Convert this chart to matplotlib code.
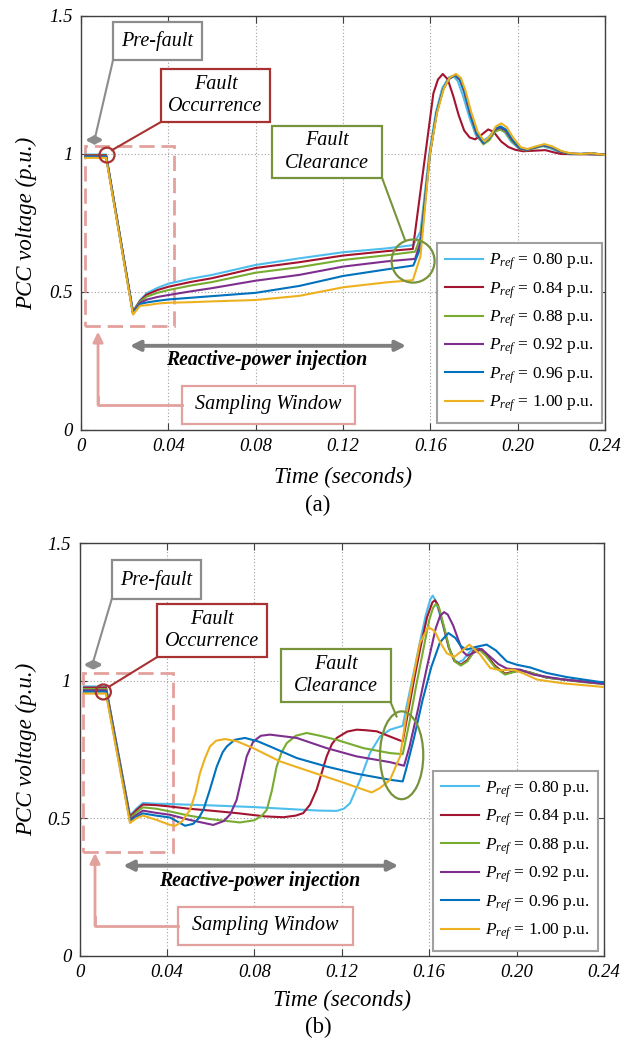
import matplotlib
matplotlib.use('Agg')
import matplotlib.pyplot as plt
from matplotlib.patches import Rectangle, Ellipse

plt.rcParams['font.family'] = ['Liberation Serif', 'DejaVu Serif']
plt.rcParams['mathtext.fontset'] = 'custom'
plt.rcParams['mathtext.it'] = 'Liberation Serif:italic'
plt.rcParams['mathtext.rm'] = 'Liberation Serif'

P_REF = ['0.80', '0.84', '0.88', '0.92', '0.96', '1.00']
COLORS = ['#4DBEEE', '#A2142F', '#77AC30', '#7E2F8E', '#0072BD', '#EDB120']
X_TICKS = [0, 0.04, 0.08, 0.12, 0.16, 0.20, 0.24]
X_LABELS = ['0', '0.04', '0.08', '0.12', '0.16', '0.20', '0.24']
Y_TICKS = [0, 0.5, 1, 1.5]
Y_LABELS = ['0', '0.5', '1', '1.5']

# ---- panel (a): PCC voltage ----
a_t_080 = [0.002, 0.0115, 0.0238, 0.027, 0.030, 0.035, 0.040, 0.050, 0.060, 0.080, 0.100, 0.120,
           0.140, 0.1522, 0.1555, 0.1595, 0.1625, 0.1655, 0.1685, 0.1705, 0.1725, 0.175, 0.178,
           0.181, 0.1835, 0.1865, 0.1895, 0.1915, 0.194, 0.197, 0.2005, 0.204, 0.208, 0.2115,
           0.215, 0.219, 0.224, 0.230, 0.235, 0.24]
a_v_080 = [0.998, 0.998, 0.430, 0.470, 0.495, 0.515, 0.530, 0.548, 0.562, 0.598, 0.622, 0.644,
           0.658, 0.670, 0.720, 1.000, 1.150, 1.240, 1.278, 1.283, 1.265, 1.210, 1.130,
           1.065, 1.045, 1.060, 1.085, 1.092, 1.080, 1.045, 1.020, 1.015, 1.022, 1.028,
           1.020, 1.007, 0.999, 1.001, 0.998, 0.997]

a_t_084 = [0.002, 0.0115, 0.0238, 0.027, 0.030, 0.035, 0.040, 0.050, 0.060, 0.080, 0.100, 0.120,
           0.140, 0.152, 0.1545, 0.1568, 0.1595, 0.1614, 0.1635, 0.1657, 0.168, 0.1705, 0.173,
           0.1755, 0.178, 0.1805, 0.1835, 0.1865, 0.189, 0.1925, 0.1958, 0.199, 0.2025, 0.2075,
           0.2127, 0.2165, 0.220, 0.24]
a_v_084 = [0.996, 0.996, 0.428, 0.467, 0.490, 0.507, 0.519, 0.536, 0.550, 0.587, 0.608, 0.632,
           0.648, 0.656, 0.806, 0.944, 1.106, 1.220, 1.270, 1.290, 1.270, 1.210, 1.140,
           1.085, 1.060, 1.053, 1.070, 1.089, 1.080, 1.045, 1.025, 1.015, 1.010, 1.012,
           1.014, 1.006, 1.000, 0.998]

a_t_088 = [0.002, 0.0115, 0.0238, 0.027, 0.030, 0.035, 0.040, 0.050, 0.060, 0.080, 0.100, 0.120,
           0.140, 0.153, 0.1555, 0.1598, 0.1629, 0.1659, 0.1685, 0.1713, 0.1735, 0.1755, 0.1781,
           0.1812, 0.1843, 0.187, 0.1895, 0.192, 0.1945, 0.1975, 0.201, 0.204, 0.208, 0.2117,
           0.2155, 0.2195, 0.2235, 0.229, 0.2335, 0.24]
a_v_088 = [0.994, 0.994, 0.426, 0.464, 0.483, 0.497, 0.507, 0.523, 0.536, 0.570, 0.590, 0.616,
           0.633, 0.646, 0.700, 1.000, 1.150, 1.235, 1.272, 1.284, 1.268, 1.225, 1.147,
           1.070, 1.035, 1.050, 1.080, 1.089, 1.078, 1.045, 1.018, 1.013, 1.022, 1.030,
           1.023, 1.008, 1.001, 0.999, 1.002, 0.997]

a_t_092 = [0.002, 0.0115, 0.0238, 0.027, 0.030, 0.035, 0.040, 0.050, 0.060, 0.080, 0.100, 0.120,
           0.140, 0.153, 0.1555, 0.1598, 0.1629, 0.1659, 0.1685, 0.1713, 0.1735, 0.1755, 0.1781,
           0.1812, 0.1843, 0.187, 0.1895, 0.192, 0.1945, 0.1975, 0.201, 0.204, 0.208, 0.2117,
           0.2155, 0.2195, 0.2235, 0.229, 0.2335, 0.24]
a_v_092 = [0.992, 0.992, 0.424, 0.460, 0.472, 0.482, 0.489, 0.502, 0.514, 0.541, 0.562, 0.592,
           0.611, 0.620, 0.680, 1.000, 1.150, 1.235, 1.272, 1.285, 1.269, 1.226, 1.148,
           1.073, 1.040, 1.058, 1.088, 1.096, 1.085, 1.050, 1.020, 1.015, 1.024, 1.032,
           1.024, 1.009, 1.002, 1.000, 1.003, 0.997]

a_t_096 = [0.002, 0.0115, 0.0238, 0.027, 0.030, 0.035, 0.040, 0.050, 0.060, 0.080, 0.100, 0.120,
           0.140, 0.1522, 0.1555, 0.1598, 0.1629, 0.1659, 0.1687, 0.1715, 0.1737, 0.1757, 0.1783,
           0.1814, 0.1845, 0.1872, 0.1897, 0.1922, 0.1947, 0.1977, 0.2012, 0.2042, 0.2082, 0.2119,
           0.2157, 0.2197, 0.2237, 0.229, 0.2335, 0.24]
a_v_096 = [0.990, 0.990, 0.422, 0.456, 0.462, 0.468, 0.473, 0.479, 0.485, 0.497, 0.522, 0.558,
           0.582, 0.596, 0.660, 1.000, 1.150, 1.236, 1.274, 1.287, 1.271, 1.228, 1.150,
           1.075, 1.040, 1.060, 1.092, 1.100, 1.088, 1.052, 1.021, 1.016, 1.025, 1.033,
           1.025, 1.010, 1.002, 1.000, 1.003, 0.997]

a_t_100 = [0.002, 0.0115, 0.0238, 0.027, 0.030, 0.035, 0.040, 0.050, 0.060, 0.080, 0.100, 0.120,
           0.140, 0.152, 0.1555, 0.1598, 0.1631, 0.1662, 0.1689, 0.1718, 0.174, 0.176, 0.1786,
           0.1817, 0.1848, 0.1875, 0.19, 0.1925, 0.195, 0.198, 0.2015, 0.2045, 0.2085, 0.2122,
           0.216, 0.22, 0.224, 0.229, 0.2335, 0.24]
a_v_100 = [0.986, 0.986, 0.418, 0.450, 0.452, 0.458, 0.461, 0.463, 0.466, 0.471, 0.486, 0.517,
           0.535, 0.543, 0.630, 1.000, 1.150, 1.238, 1.277, 1.290, 1.275, 1.232, 1.155,
           1.080, 1.045, 1.065, 1.100, 1.111, 1.097, 1.058, 1.024, 1.018, 1.028, 1.036,
           1.027, 1.011, 1.003, 1.000, 1.003, 0.997]

# ---- panel (b) ----
b_t_080 = [0.002, 0.0121, 0.0231, 0.026, 0.029, 0.035, 0.0414, 0.0483, 0.060, 0.0795, 0.100,
           0.110, 0.1177, 0.121, 0.1238, 0.1284, 0.1329, 0.1375, 0.1421, 0.1479, 0.1495, 0.1527,
           0.1555, 0.1585, 0.1605, 0.1616, 0.163, 0.166, 0.169, 0.1715, 0.1734, 0.1755, 0.1785,
           0.181, 0.1835, 0.1865, 0.1905, 0.1947, 0.1985, 0.2016, 0.206, 0.2138, 0.222, 0.230,
           0.24]
b_v_080 = [0.979, 0.979, 0.510, 0.535, 0.556, 0.553, 0.552, 0.550, 0.547, 0.541, 0.532,
           0.528, 0.527, 0.535, 0.555, 0.640, 0.737, 0.797, 0.822, 0.836, 0.900, 1.020,
           1.130, 1.240, 1.295, 1.309, 1.290, 1.210, 1.120, 1.075, 1.066, 1.075, 1.105,
           1.120, 1.115, 1.090, 1.050, 1.025, 1.032, 1.038, 1.030, 1.011, 1.004, 0.998,
           0.993]

b_t_084 = [0.002, 0.0121, 0.0231, 0.026, 0.029, 0.035, 0.0414, 0.050, 0.060, 0.0719, 0.085,
           0.0933, 0.099, 0.1024, 0.1055, 0.1085, 0.1131, 0.1155, 0.1177, 0.1225, 0.1268, 0.131,
           0.136, 0.1421, 0.1479, 0.150, 0.153, 0.156, 0.159, 0.1615, 0.1627, 0.164, 0.1665,
           0.169, 0.1715, 0.1745, 0.1775, 0.1805, 0.183, 0.186, 0.190, 0.1947, 0.198, 0.2016,
           0.206, 0.2138, 0.222, 0.230, 0.24]
b_v_084 = [0.975, 0.975, 0.505, 0.530, 0.550, 0.548, 0.543, 0.535, 0.528, 0.519, 0.507,
           0.504, 0.510, 0.519, 0.550, 0.604, 0.725, 0.770, 0.792, 0.815, 0.822, 0.820,
           0.816, 0.797, 0.779, 0.870, 1.000, 1.120, 1.230, 1.285, 1.292, 1.275, 1.200,
           1.120, 1.072, 1.058, 1.075, 1.110, 1.115, 1.095, 1.055, 1.025, 1.032, 1.038,
           1.030, 1.011, 1.004, 0.997, 0.990]

b_t_088 = [0.002, 0.0121, 0.0231, 0.026, 0.029, 0.035, 0.0414, 0.050, 0.060, 0.0734, 0.080,
           0.0835, 0.0857, 0.088, 0.0902, 0.0925, 0.0948, 0.099, 0.104, 0.110, 0.1177, 0.1299,
           0.1421, 0.1479, 0.151, 0.154, 0.157, 0.160, 0.1618, 0.1631, 0.1645, 0.167, 0.1695,
           0.172, 0.1745, 0.1775, 0.1805, 0.183, 0.186, 0.190, 0.1947, 0.198, 0.2016, 0.206,
           0.2138, 0.222, 0.230, 0.24]
b_v_088 = [0.970, 0.970, 0.500, 0.522, 0.540, 0.535, 0.525, 0.510, 0.497, 0.485, 0.493,
           0.510, 0.531, 0.600, 0.688, 0.740, 0.773, 0.800, 0.810, 0.800, 0.785, 0.755,
           0.737, 0.733, 0.850, 0.980, 1.100, 1.220, 1.265, 1.279, 1.265, 1.190, 1.110,
           1.068, 1.055, 1.070, 1.105, 1.112, 1.090, 1.050, 1.022, 1.030, 1.036, 1.030,
           1.011, 1.003, 0.995, 0.988]

b_t_092 = [0.002, 0.0121, 0.0231, 0.026, 0.029, 0.035, 0.0414, 0.050, 0.0612, 0.066, 0.069,
           0.0719, 0.074, 0.0765, 0.0795, 0.083, 0.0872, 0.0994, 0.1131, 0.1268, 0.1421, 0.1485,
           0.151, 0.155, 0.159, 0.163, 0.165, 0.1668, 0.1685, 0.171, 0.1735, 0.1755, 0.1774,
           0.180, 0.184, 0.1879, 0.1917, 0.1955, 0.2016, 0.2077, 0.2215, 0.24]
b_v_092 = [0.965, 0.965, 0.495, 0.512, 0.528, 0.520, 0.513, 0.495, 0.476, 0.490, 0.515,
           0.567, 0.640, 0.725, 0.779, 0.800, 0.804, 0.792, 0.755, 0.725, 0.704, 0.691,
           0.760, 0.900, 1.050, 1.190, 1.235, 1.249, 1.240, 1.200, 1.145, 1.105, 1.091,
           1.100, 1.115, 1.087, 1.060, 1.044, 1.040, 1.022, 1.004, 0.988]

b_t_096 = [0.002, 0.0121, 0.0231, 0.026, 0.029, 0.035, 0.0414, 0.0483, 0.052, 0.0545, 0.0567,
           0.0595, 0.0628, 0.0655, 0.0674, 0.071, 0.0757, 0.0815, 0.0872, 0.0994, 0.1131, 0.1268,
           0.1421, 0.1479, 0.1495, 0.153, 0.157, 0.161, 0.165, 0.1688, 0.172, 0.1745, 0.1772,
           0.181, 0.1863, 0.1905, 0.1955, 0.200, 0.2062, 0.2138, 0.223, 0.24]
b_v_096 = [0.960, 0.960, 0.490, 0.505, 0.518, 0.510, 0.503, 0.473, 0.480, 0.500, 0.531,
           0.600, 0.688, 0.740, 0.761, 0.785, 0.792, 0.780, 0.761, 0.719, 0.688, 0.662,
           0.640, 0.634, 0.680, 0.790, 0.930, 1.050, 1.140, 1.173, 1.155, 1.125, 1.113,
           1.122, 1.131, 1.110, 1.070, 1.058, 1.048, 1.028, 1.013, 0.993]

b_t_100 = [0.002, 0.0121, 0.0231, 0.026, 0.029, 0.035, 0.0414, 0.044, 0.047, 0.0506, 0.053,
           0.0551, 0.0575, 0.0597, 0.0625, 0.0666, 0.072, 0.0795, 0.0917, 0.1055, 0.1192, 0.1337,
           0.1375, 0.1421, 0.1467, 0.1497, 0.1528, 0.1558, 0.1596, 0.1625, 0.165, 0.168, 0.1714,
           0.1745, 0.1784, 0.1833, 0.1879, 0.1925, 0.1986, 0.2035, 0.2093, 0.2215, 0.24]
b_v_100 = [0.953, 0.953, 0.483, 0.500, 0.510, 0.495, 0.476, 0.473, 0.490, 0.531, 0.590,
           0.664, 0.720, 0.761, 0.782, 0.788, 0.780, 0.755, 0.707, 0.670, 0.634, 0.594,
           0.610, 0.640, 0.725, 0.882, 1.016, 1.137, 1.195, 1.180, 1.140, 1.100, 1.086,
           1.105, 1.131, 1.095, 1.046, 1.038, 1.040, 1.025, 1.004, 0.990, 0.977]

GRAY = '#8C8C8C'
DARKRED = '#A83232'
GREEN = '#77933C'
SALMON = '#E3A19D'
ANN_FS = 14.5


def box(ax, x0, x1, y0, y1, xc, yc, text, ec):
    ax.add_patch(Rectangle((x0, y0), x1 - x0, y1 - y0, facecolor='white', edgecolor=ec,
                           lw=1.6, zorder=4))
    ax.text(xc, yc, text, ha='center', va='center', fontsize=ANN_FS, fontstyle='italic',
            zorder=5, linespacing=1.25)


def draw_panel(ax, ts, vs, ann, leg_anchor):
    for t, v, c, p in zip(ts, vs, COLORS, P_REF):
        ax.plot(t, v, color=c, lw=1.5, label=r'$P_{ref}$ = %s p.u.' % p, zorder=3)

    ax.set_xlim(0, 0.24)
    ax.set_ylim(0, 1.5)
    ax.set_xticks(X_TICKS)
    ax.set_xticklabels(X_LABELS)
    ax.set_yticks(Y_TICKS)
    ax.set_yticklabels(Y_LABELS)
    for lb in ax.get_xticklabels() + ax.get_yticklabels():
        lb.set_fontstyle('italic')
    ax.tick_params(direction='in', length=5, top=True, right=True, labelsize=13.5,
                   pad=6, color='#404040')
    for sp in ax.spines.values():
        sp.set_color('#404040')
        sp.set_linewidth(1.0)
    ax.grid(True, linestyle=(0, (1, 2)), color='#A0A0A0', lw=0.8)
    ax.set_axisbelow(True)

    ax.text(0.5, ann['xlab_y'], 'Time (seconds)', transform=ax.transAxes, ha='center',
            va='center', fontsize=16.5, fontstyle='italic')
    ax.text(ann['ylab_x'], 0.5, 'PCC voltage (p.u.)', transform=ax.transAxes, ha='center',
            va='center', rotation=90, fontsize=16.5, fontstyle='italic')

    # pre-fault
    box(ax, *ann['pre_box'], 'Pre-fault', GRAY)
    ax.plot(*ann['pre_lead'], color=GRAY, lw=1.5, zorder=4)
    ax.annotate('', xy=(ann['pre_arrow'][1], ann['pre_arrow'][2]),
                xytext=(ann['pre_arrow'][0], ann['pre_arrow'][2]),
                arrowprops=dict(arrowstyle='<->', color=GRAY, lw=2.6, mutation_scale=10,
                                shrinkA=0, shrinkB=0), zorder=4)

    # fault occurrence
    box(ax, *ann['occ_box'], 'Fault\nOccurrence', DARKRED)
    ax.plot(*ann['occ_lead'], color=DARKRED, lw=1.5, zorder=4)
    ax.add_patch(Ellipse(ann['occ_circ'][:2], ann['occ_circ'][2], ann['occ_circ'][3],
                         fill=False, ec=DARKRED, lw=1.6, zorder=4))

    # fault clearance
    box(ax, *ann['clr_box'], 'Fault\nClearance', GREEN)
    ax.plot(*ann['clr_lead'], color=GREEN, lw=1.5, zorder=4)
    ax.add_patch(Ellipse(ann['clr_circ'][:2], ann['clr_circ'][2], ann['clr_circ'][3],
                         fill=False, ec=GREEN, lw=1.6, zorder=4))

    # sampling window
    x0, x1, y0, y1 = ann['samp_rect']
    ax.add_patch(Rectangle((x0, y0), x1 - x0, y1 - y0, fill=False, ec=SALMON, lw=2.0,
                           linestyle=(0, (5.5, 2.5)), zorder=2))
    box(ax, *ann['samp_box'], 'Sampling Window', SALMON)
    sx0, sx1, sy, stip = ann['samp_arrow']
    ax.plot([sx0, sx1, sx1], [sy, sy, sy + 0.03], color=SALMON, lw=2.0, zorder=4)
    ax.annotate('', xy=(sx1, stip), xytext=(sx1, sy),
                arrowprops=dict(arrowstyle='-|>', color=SALMON, lw=2.0, mutation_scale=15,
                                shrinkA=0, shrinkB=0), zorder=4)

    # reactive power injection
    rx0, rx1, ry, rtx, rty = ann['react']
    ax.annotate('', xy=(rx1, ry), xytext=(rx0, ry),
                arrowprops=dict(arrowstyle='<|-|>', color='#7F7F7F', lw=2.8, mutation_scale=15,
                                shrinkA=0, shrinkB=0), zorder=4)
    ax.text(rtx, rty, 'Reactive-power injection', ha='center', va='center', fontsize=14.2,
            fontstyle='italic', fontweight='bold', zorder=5)

    leg = ax.legend(loc='lower right', bbox_to_anchor=leg_anchor, borderaxespad=0,
                    fontsize=12.5, frameon=True, fancybox=False, framealpha=1,
                    edgecolor='#A0A0A0', handlelength=2.2, handletextpad=0.3,
                    labelspacing=0.45, borderpad=0.5)
    leg.get_frame().set_linewidth(1.5)
    leg.set_zorder(6)


fig = plt.figure(figsize=(6.34, 10.47), dpi=100)
ax_a = fig.add_axes([81 / 634, 1 - 430 / 1047, 524 / 634, 414 / 1047])
ax_b = fig.add_axes([79.5 / 634, 1 - 956 / 1047, 524.5 / 634, 413 / 1047])

ann_a = dict(
    xlab_y=-47 / 414, ylab_x=-54 / 524,
    pre_box=(0.0147, 0.0554, 1.341, 1.478, 0.0350, 1.409),
    pre_lead=([0.0147, 0.0064], [1.341, 1.058]),
    pre_arrow=(0.0018, 0.0105, 1.051),
    occ_box=(0.0366, 0.0866, 1.116, 1.308, 0.0616, 1.212),
    occ_lead=([0.0366, 0.0142], [1.116, 1.014]),
    occ_circ=(0.0119, 0.996, 0.0069, 0.054),
    clr_box=(0.0875, 0.1379, 0.913, 1.101, 0.1127, 1.007),
    clr_lead=([0.1379, 0.1484], [0.913, 0.688]),
    clr_circ=(0.1521, 0.612, 0.0197, 0.156),
    samp_rect=(0.0018, 0.0426, 0.377, 1.029),
    samp_box=(0.0463, 0.1255, 0.022, 0.160, 0.0859, 0.091),
    samp_arrow=(0.0463, 0.0078, 0.091, 0.356),
    react=(0.0224, 0.1489, 0.305, 0.085, 0.254),
)
ann_b = dict(
    xlab_y=-44 / 413, ylab_x=-53 / 524.5,
    pre_box=(0.0147, 0.0556, 1.295, 1.437, 0.0352, 1.366),
    pre_lead=([0.0147, 0.0063], [1.295, 1.07]),
    pre_arrow=(0.0017, 0.0109, 1.058),
    occ_box=(0.0356, 0.0859, 1.086, 1.279, 0.0608, 1.183),
    occ_lead=([0.0356, 0.0135], [1.086, 0.978]),
    occ_circ=(0.0109, 0.959, 0.0069, 0.0545),
    clr_box=(0.0921, 0.1424, 0.921, 1.115, 0.1172, 1.018),
    clr_lead=([0.1424, 0.1451], [0.921, 0.87]),
    clr_circ=(0.1474, 0.729, 0.0198, 0.319),
    samp_rect=(0.0015, 0.0429, 0.376, 1.028),
    samp_box=(0.0452, 0.125, 0.040, 0.179, 0.0851, 0.110),
    samp_arrow=(0.0452, 0.0071, 0.110, 0.374),
    react=(0.020, 0.1459, 0.328, 0.0824, 0.274),
)

draw_panel(ax_a, [a_t_080, a_t_084, a_t_088, a_t_092, a_t_096, a_t_100],
           [a_v_080, a_v_084, a_v_088, a_v_092, a_v_096, a_v_100], ann_a,
           ((602 - 81) / 524, 7 / 414))
draw_panel(ax_b, [b_t_080, b_t_084, b_t_088, b_t_092, b_t_096, b_t_100],
           [b_v_080, b_v_084, b_v_088, b_v_092, b_v_096, b_v_100], ann_b,
           ((598 - 79.5) / 524.5, 5.3 / 413))

fig.text(318 / 634, 1 - 505 / 1047, '(a)', ha='center', va='center', fontsize=16.5)
fig.text(318 / 634, 1 - 1027 / 1047, '(b)', ha='center', va='center', fontsize=16.5)

fig.savefig('out.png', dpi=100)
